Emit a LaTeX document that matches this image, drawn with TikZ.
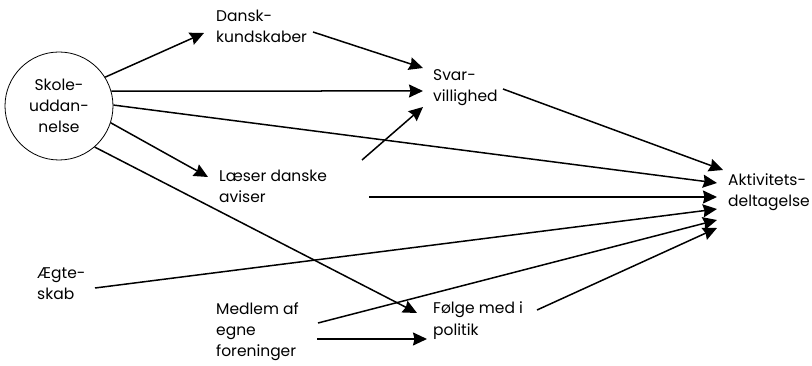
\documentclass[tikz,border=0pt]{standalone}
\usepackage{fontspec}
\setmainfont{Poppins}
\usetikzlibrary{arrows.meta}
\begin{document}
\begin{tikzpicture}[x=1pt,y=-1pt,
  lbl/.style={anchor=base west,align=left,inner sep=0pt,
    font=\fontsize{15.5}{21}\selectfont},
  conn/.style={line width=1.5pt,-{Stealth[length=14pt,width=13pt,inset=1.5pt]}}]
\useasboundingbox (0,0) rectangle (812,366);

% source circle
\node[circle,draw,line width=0.8pt,minimum size=108pt,inner sep=0pt,align=center,
  font=\fontsize{15.5}{21}\selectfont] (sk) at (59,106) {Skole-\\uddan-\\nelse};

% labels (positioned by the baseline of their last line)
\node[lbl] (dk) at (216,43)  {Dansk-\\kundskaber};
\node[lbl] (sv) at (433,102) {Svar-\\villighed};
\node[lbl] (la) at (219,203) {Læser danske\\aviser};
\node[lbl] (ak) at (728,207) {Aktivitets-\\deltagelse};
\node[lbl] (ae) at (37,300)  {Ægte-\\skab};
\node[lbl] (me) at (216,356) {Medlem af\\egne\\foreninger};
\node[lbl] (fo) at (433,335) {Følge med i\\politik};

% connector end points
\coordinate (dk-in)   at (204,33);
\coordinate (dk-out)  at (313,32);
\coordinate (sv-in1)  at (423,68);
\coordinate (sv-in2)  at (423,91);
\coordinate (sv-in3)  at (423,107);
\coordinate (sv-out)  at (503,89);
\coordinate (la-in)   at (208,177);
\coordinate (la-out1) at (362,160);
\coordinate (la-out2) at (369,197);
\coordinate (ae-out)  at (95,288);
\coordinate (me-out1) at (318,323);
\coordinate (me-out2) at (317,339);
\coordinate (fo-in1)  at (417,313);
\coordinate (fo-in2)  at (427,339);
\coordinate (fo-out)  at (537,310);
\coordinate (ak-in1)  at (723,170);
\coordinate (ak-in2)  at (717,183);
\coordinate (ak-in3)  at (717,197);
\coordinate (ak-in4)  at (717,209);
\coordinate (ak-in5)  at (717,220);
\coordinate (ak-in6)  at (717,228);

% connectors
\draw[conn] (sk.32)  -- (dk-in);
\draw[conn] (dk-out) -- (sv-in1);
\draw[conn] (sk.16)  -- (sv-in2);
\draw[conn] (la-out1) -- (sv-in3);
\draw[conn] (sk.1)   -- (ak-in2);
\draw[conn] (sk.-18) -- (la-in);
\draw[conn] (sk.-49) -- (fo-in1);
\draw[conn] (sv-out) -- (ak-in1);
\draw[conn] (la-out2) -- (ak-in3);
\draw[conn] (ae-out) -- (ak-in4);
\draw[conn] (me-out1) -- (ak-in5);
\draw[conn] (me-out2) -- (fo-in2);
\draw[conn] (fo-out) -- (ak-in6);
\end{tikzpicture}
\end{document}
